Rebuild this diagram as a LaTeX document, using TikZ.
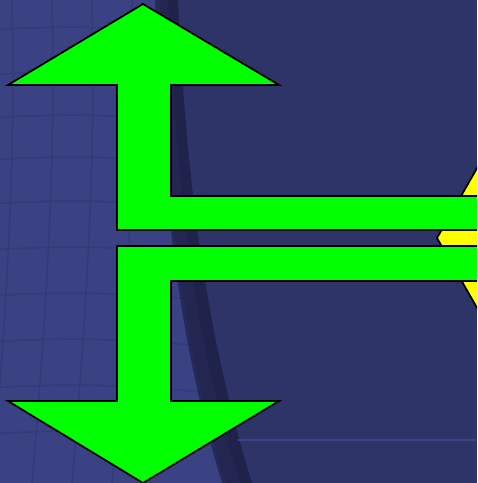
\documentclass[tikz,border=0pt]{standalone}
\usepackage{tikz}
\definecolor{bgNavy}{RGB}{46, 52, 104}
\definecolor{bgLight}{RGB}{58, 66, 132}
\definecolor{bgGrid}{RGB}{51, 59, 121}
\definecolor{bgShadow}{RGB}{30, 33, 72}
\definecolor{bgGlow}{RGB}{60, 68, 134}
\definecolor{arrowGreen}{RGB}{0, 255, 0}
\definecolor{arrowYellow}{RGB}{255, 255, 0}

\begin{document}
\begin{tikzpicture}[x=0.02cm, y=-0.02cm,
    arrowshape/.style={draw=black, line width=1pt, line join=miter}]
      \useasboundingbox (0,0) rectangle (477,483);
      \clip (0,0) rectangle (477,483);

      % Background
      \fill[bgNavy] (0,0) rectangle (477,483);
      \fill[bgLight] (0,0) -- (160,0) .. controls (165,180) and (178,330) .. (225,483) -- (0,483) -- cycle;

      % Grid on the left part
      \begin{scope}
        \clip (0,0) -- (160,0) .. controls (165,180) and (178,330) .. (225,483) -- (0,483) -- cycle;
        \foreach \y in {30,75,118,160,204,250,296,342,388,434} {
          \draw[bgGrid, line width=0.9pt] (-10,\y) .. controls (80,\y-6) and (150,\y-2) .. (240,\y+8);
        }
        \foreach \x in {12,52,92,132} {
          \draw[bgGrid, line width=0.9pt] (\x,0) .. controls (\x+4,160) and (\x-6,320) .. (\x-20,483);
        }
      \end{scope}

      % Shadow along the curved edge
      \fill[bgShadow, opacity=0.7] (155,0) .. controls (162,180) and (175,330) .. (222,483)
        -- (252,483) .. controls (205,330) and (186,180) .. (178,0) -- cycle;
      \fill[bgShadow, opacity=0.5] (168,0) .. controls (176,180) and (192,330) .. (240,483)
        -- (252,483) .. controls (205,330) and (186,180) .. (178,0) -- cycle;

      % Light line at bottom right
      \draw[bgGlow, line width=1.5pt] (238,440) -- (477,440);

      % Yellow arrow head behind the bars
      \draw[arrowshape, fill=arrowYellow] (437,238) -- (500,128) -- (500,348) -- cycle;

      % Upper arrow
      \draw[arrowshape, fill=arrowGreen] (143,4) -- (279,85) -- (171,85) -- (171,196)
        -- (490,196) -- (490,230) -- (117,230) -- (117,85) -- (8,85) -- cycle;

      % Lower arrow
      \draw[arrowshape, fill=arrowGreen] (117,246) -- (490,246) -- (490,281) -- (171,281)
        -- (171,401) -- (279,401) -- (143,483) -- (8,401) -- (117,401) -- cycle;
    \end{tikzpicture}
\end{document}
